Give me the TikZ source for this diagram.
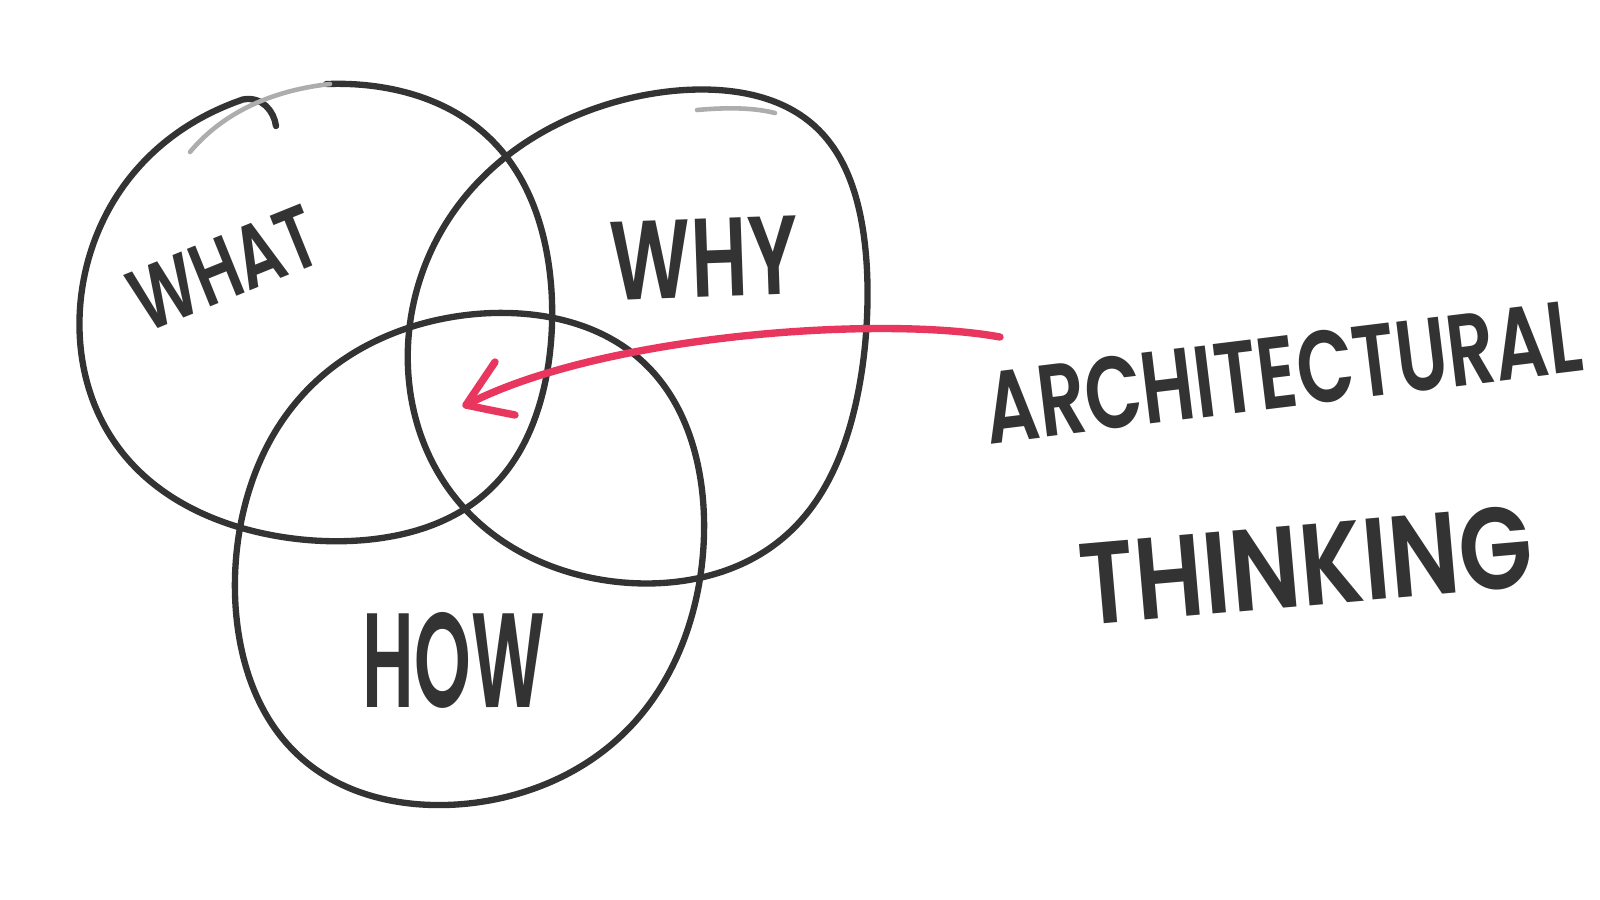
\documentclass[tikz,border=0pt]{standalone}
\usepackage{fontspec}
\setmainfont{Poppins}[UprightFont=* SemiBold]
\usepackage{graphicx}
\definecolor{ink}{HTML}{333333}
\definecolor{marker}{HTML}{E8365E}
\newcommand\sizedtext[3]{\resizebox{#1cm}{#2cm}{#3}}
\begin{document}
\begin{tikzpicture}[x=0.01cm,y=-0.01cm,
  circ/.style={draw=ink, line width=1.8pt, line cap=round, line join=round},
  dry/.style={draw=ink!40, line width=1.3pt, line cap=round},
  lbl/.style={inner sep=0pt, text=ink},
  redline/.style={draw=marker, line width=2.1pt, line cap=round, line join=round}]
\useasboundingbox (0,0) rectangle (1600,899);
\fill[white] (0,0) rectangle (1600,899);

% WHAT circle (open, hand drawn, ends in a hook)
\draw[circ] plot[domain=-95:246, samples=150, smooth, variable=\t]
 ({326+239.6*(cos(\t)-0.015*cos(3*\t))-12*sin(\t)-10.25*cos(2*\t)},
  {317+232*(sin(\t)+0.015*sin(3*\t))+9*cos(\t)+4.5*cos(2*\t)})
 .. controls (262,96) and (274,111) .. (276,126);
\draw[dry] (190,152) .. controls (215,122) and (258,92) .. (330,84);

% WHY circle
\draw[circ] plot[domain=0:360, samples=150, smooth cycle, variable=\t]
 ({655.5+233*(cos(\t)-0.015*cos(3*\t))-12*sin(\t)-18*cos(2*\t)},
  {334+250.3*(sin(\t)+0.015*sin(3*\t))-14*cos(\t)-2.5*cos(2*\t)});
\draw[dry] (697,110) .. controls (730,107) and (755,108) .. (775,113);

% HOW circle
\draw[circ] plot[domain=0:360, samples=150, smooth cycle, variable=\t]
 ({469.5+238.1*(cos(\t)-0.015*cos(3*\t))-6*sin(\t)},
  {557.5+248.7*(sin(\t)+0.015*sin(3*\t))-22*cos(\t)-1.5*cos(2*\t)});

% labels
\node[lbl, rotate=22] (what) at (224,268) {\sizedtext{1.95}{0.62}{WHAT}};
\node[lbl, rotate=2] (why) at (704,258) {\sizedtext{1.88}{0.78}{WHY}};
\node[lbl] (how) at (454,660) {\sizedtext{1.82}{0.95}{HOW}};
\node[lbl, rotate=7] (arch) at (1283,372) {\sizedtext{6.00}{0.72}{ARCHITECTURAL}};
\node[lbl, rotate=5] (think) at (1306,565) {\sizedtext{4.54}{0.82}{THINKING}};

% red arrow
\coordinate (tail) at (1000,337);
\coordinate (tip) at (466,405);
\coordinate (barbup) at (495,362);
\coordinate (barblow) at (515,415);
\draw[redline] (tail) .. controls (880,315) and (600,335) .. (tip);
\draw[redline] (barbup) -- (tip) .. controls (485,409) .. (barblow);
\end{tikzpicture}
\end{document}
